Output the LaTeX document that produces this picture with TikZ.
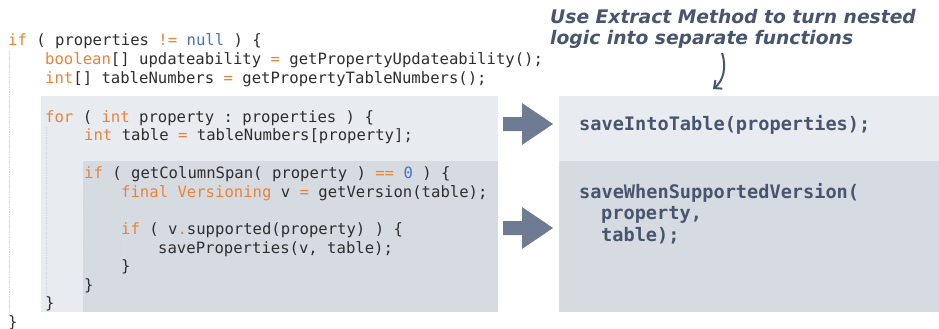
\documentclass[tikz,border=0pt]{standalone}
\usepackage{fontspec}
\setmainfont{DejaVu Sans}
\setsansfont{DejaVu Sans}
\setmonofont{DejaVu Sans Mono}
\usetikzlibrary{arrows.meta}
\definecolor{kw}{HTML}{E8843A}
\definecolor{lit}{HTML}{4A6FC0}
\definecolor{txt}{HTML}{2E2E2E}
\definecolor{boxA}{HTML}{E8EBEF}
\definecolor{boxB}{HTML}{D6DBE2}
\definecolor{arr}{HTML}{6E7B93}
\definecolor{note}{HTML}{47556F}
\definecolor{guide}{HTML}{D4D6DA}
\newcommand{\kw}[1]{\textcolor{kw}{#1}}
\newcommand{\lit}[1]{\textcolor{lit}{#1}}
\tikzset{
  code/.style={anchor=base west, inner sep=0pt, text=txt, font=\ttfamily\fontsize{15.6}{18.5}\selectfont},
  newcode/.style={anchor=base west, inner sep=0pt, text=note, font=\ttfamily\bfseries\fontsize{18.6}{21.5}\selectfont},
  notetext/.style={anchor=base west, inner sep=0pt, text=note, align=left, font=\sffamily\bfseries\itshape\fontsize{18.7}{21}\selectfont},
  guideline/.style={draw=guide, line width=0.8pt, dash pattern=on 1.5pt off 1pt},
  blockarrow/.style={fill=arr, draw=none},
}
\begin{document}
\begin{tikzpicture}[x=1pt,y=-1pt]
\useasboundingbox (0,0) rectangle (939,329);
% background boxes
\fill[boxA] (41,96) rectangle (498,312);
\fill[boxB] (83,161) rectangle (498,312);
\fill[boxA] (559,96) rectangle (939,161);
\fill[boxB] (559,161) rectangle (939,312);
% indent guides
\draw[guideline] (9,51) -- (9,314);
\draw[guideline] (46,127) -- (46,296);
\draw[guideline] (84,182) -- (84,279);
\draw[guideline] (121,238) -- (121,259);
% code lines
\node[code] (l1) at (8,46) {\kw{if} ( properties \kw{!=} \lit{null} ) \{};
\node[code] (l2) at (45,65) {\kw{boolean}[] updateability \kw{=} getPropertyUpdateability();};
\node[code] (l3) at (45,84) {\kw{int}[] tableNumbers \kw{=} getPropertyTableNumbers();};
\node[code] (l4) at (45,122) {\kw{for} ( \kw{int} property : properties ) \{};
\node[code] (l5) at (84,140) {\kw{int} table \kw{=} tableNumbers[property];};
\node[code] (l6) at (84,178) {\kw{if} ( getColumnSpan( property ) \kw{==} \lit{0} ) \{};
\node[code] (l7) at (121,197) {\kw{final} \kw{Versioning} v \kw{=} getVersion(table);};
\node[code] (l8) at (121,234) {\kw{if} ( v\kw{.}supported(property) ) \{};
\node[code] (l9) at (158,253) {saveProperties(v, table);};
\node[code] (l10) at (121,271) {\}};
\node[code] (l11) at (84,290) {\}};
\node[code] (l12) at (45,308) {\}};
\node[code] (l13) at (8,327) {\}};
% block arrows
\path[blockarrow] (503,117) -- (522,117) -- (522,103) -- (553,124) -- (522,145) -- (522,131) -- (503,131) -- cycle;
\path[blockarrow] (503,221) -- (522,221) -- (522,207) -- (553,228) -- (522,249) -- (522,235) -- (503,235) -- cycle;
% refactored code
\node[newcode] (r1) at (579,130.5) {saveIntoTable(properties);};
\node[newcode] (r2) at (579,198.5) {saveWhenSupportedVersion(};
\node[newcode] (r3) at (601,219.5) {property,};
\node[newcode] (r4) at (601,241.5) {table);};
% annotation
\node[notetext] (n1) at (550,23.5) {Use Extract Method to turn nested};
\node[notetext] (n2) at (550,44.5) {logic into separate functions};
\coordinate (cs) at (722,53);
\coordinate (ce) at (713,89);
\draw[note, line width=2pt, -{Straight Barb[length=6pt,width=11pt]}] (cs) .. controls (727,68) and (723,81) .. (ce);
\end{tikzpicture}
\end{document}
